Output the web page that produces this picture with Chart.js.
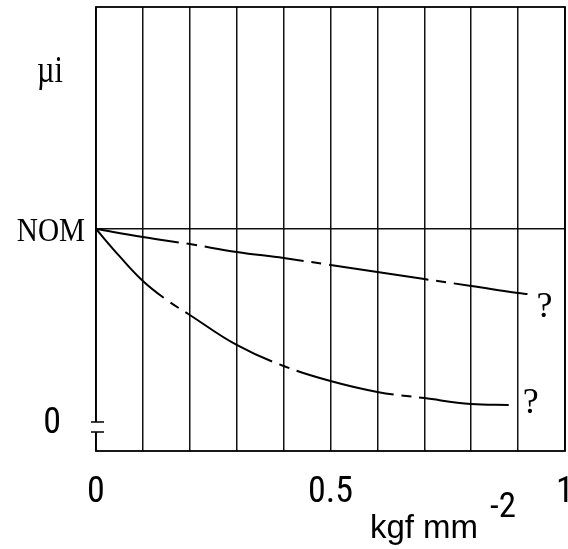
<!DOCTYPE html>
<html>
<head>
<meta charset="utf-8">
<script src="https://cdn.jsdelivr.net/npm/chart.js@4.4.1/dist/chart.umd.min.js"></script>
<style>
  html, body { margin: 0; padding: 0; background: #fff; }
  #wrap { width: 568px; height: 549px; }
</style>
</head>
<body>
<div id="wrap"><canvas id="chart" width="568" height="549"></canvas></div>
<script>
// stress axis (kgf mm^-2)
const xGridStep = 0.1
const xTickValues = [0, 0.5, 1]
const xTickLabels = ['0', '0.5', '1']

// µi axis, NOM = 1
const yGridValues = [1]
const yTickValues = [0, 1]
const yTickLabels = ['0', 'NOM']

// upper curve
const upperX = [0, 0.1, 0.2, 0.3, 0.4, 0.5, 0.6, 0.7, 0.8, 0.9, 0.92]
const upperY = [1.0, 0.958, 0.921, 0.880, 0.848, 0.812, 0.775, 0.738, 0.702, 0.665, 0.660]

// lower curve
const lowerX = [0, 0.05, 0.1, 0.15, 0.2, 0.3, 0.4, 0.5, 0.6, 0.7, 0.8, 0.88]
const lowerY = [1.0, 0.858, 0.728, 0.630, 0.550, 0.393, 0.283, 0.204, 0.147, 0.115, 0.084, 0.079]

const serif = '"Liberation Serif", "Times New Roman", serif'
const sans = '"Liberation Sans", Arial, sans-serif'
const narrow = '"Roboto Condensed", "Liberation Sans", Arial, sans-serif'

function pts(xs, ys) {
  return xs.map((v, i) => ({x: v, y: ys[i]}))
}

// draws text squeezed horizontally
function squeezed(ctx, text, x, y, sx) {
  ctx.save()
  ctx.translate(x, y)
  ctx.scale(sx, 1)
  ctx.fillText(text, 0, 0)
  ctx.restore()
}

// labels, axis break, frame
const decor = {
  id: 'decor',
  afterDraw(chart) {
    const {ctx, chartArea: a, scales: {x, y}} = chart
    ctx.save()
    ctx.strokeStyle = '#000'
    ctx.lineWidth = 1.8
    ctx.strokeRect(a.left, a.top, a.right - a.left, a.bottom - a.top)

    // break on the y axis just under 0
    const b1 = y.getPixelForValue(-0.01), b2 = y.getPixelForValue(-0.063)
    ctx.fillStyle = '#fff'
    ctx.fillRect(a.left - 2, b1, 4, b2 - b1)
    ctx.lineWidth = 1.5
    ctx.beginPath()
    ctx.moveTo(a.left - 5, b1); ctx.lineTo(a.left + 8, b1)
    ctx.moveTo(a.left - 5, b2); ctx.lineTo(a.left + 8, b2)
    ctx.stroke()

    ctx.fillStyle = '#000'
    ctx.textBaseline = 'alphabetic'

    // y labels
    ctx.textAlign = 'right'
    ctx.font = '34px ' + serif
    squeezed(ctx, yTickLabels[1], a.left - 11, y.getPixelForValue(yTickValues[1]) + 12, 0.86)
    ctx.font = '36px ' + narrow
    ctx.fillText(yTickLabels[0], a.left - 35, y.getPixelForValue(yTickValues[0]) + 13)
    ctx.font = '37px ' + serif
    squeezed(ctx, 'µi', a.left - 33, y.getPixelForValue(1.77), 0.82)

    // unit
    ctx.textAlign = 'left'
    ctx.font = '33px ' + sans
    ctx.fillText('kgf mm', x.getPixelForValue(0.584), a.bottom + 87)
    ctx.font = '35px ' + narrow
    ctx.fillText('-2', x.getPixelForValue(0.84), a.bottom + 66)

    // question marks at curve ends
    ctx.font = '36px ' + serif
    ctx.fillText('?', x.getPixelForValue(upperX[upperX.length - 1]) + 9, y.getPixelForValue(upperY[upperY.length - 1]) + 23)
    ctx.fillText('?', x.getPixelForValue(lowerX[lowerX.length - 1]) + 14, y.getPixelForValue(lowerY[lowerY.length - 1]) + 8)
    ctx.restore()
  }
}

const lineStyle = {
  borderColor: '#000',
  borderWidth: 2,
  pointRadius: 0,
  fill: false,
  tension: 0.4,
  borderDash: [100, 8, 10, 8]
}

let chart = new Chart(document.getElementById('chart'), {
  type: 'line',
  data: {
    datasets: [
      {...lineStyle, label: 'upper', data: pts(upperX, upperY), borderDashOffset: 16},
      {...lineStyle, label: 'lower', data: pts(lowerX, lowerY), borderDashOffset: 3}
    ]
  },
  options: {
    responsive: false,
    animation: false,
    layout: {padding: {top: 7, right: 3, left: 0, bottom: 0}},
    plugins: {legend: {display: false}, tooltip: {enabled: false}},
    scales: {
      x: {
        type: 'linear', min: 0, max: 1,
        border: {display: false},
        grid: {color: '#111', lineWidth: 1.5, drawTicks: false},
        ticks: {
          stepSize: xGridStep, autoSkip: false, maxRotation: 0, padding: 20,
          color: '#000', font: {family: narrow, size: 36},
          callback: v => {
            const i = xTickValues.findIndex(t => Math.abs(t - v) < 1e-6)
            return i < 0 ? '' : xTickLabels[i]
          }
        },
        afterFit: s => { s.height = 98; s.paddingLeft = 0; s.paddingRight = 0 }
      },
      y: {
        type: 'linear', min: -0.162, max: 2.162,
        border: {display: false},
        grid: {color: '#111', lineWidth: 1.5, drawTicks: false},
        ticks: {display: false},
        afterBuildTicks: s => { s.ticks = yGridValues.map(v => ({value: v})) },
        afterFit: s => { s.width = 96 }
      }
    }
  },
  plugins: [decor]
})
</script>
</body>
</html>
